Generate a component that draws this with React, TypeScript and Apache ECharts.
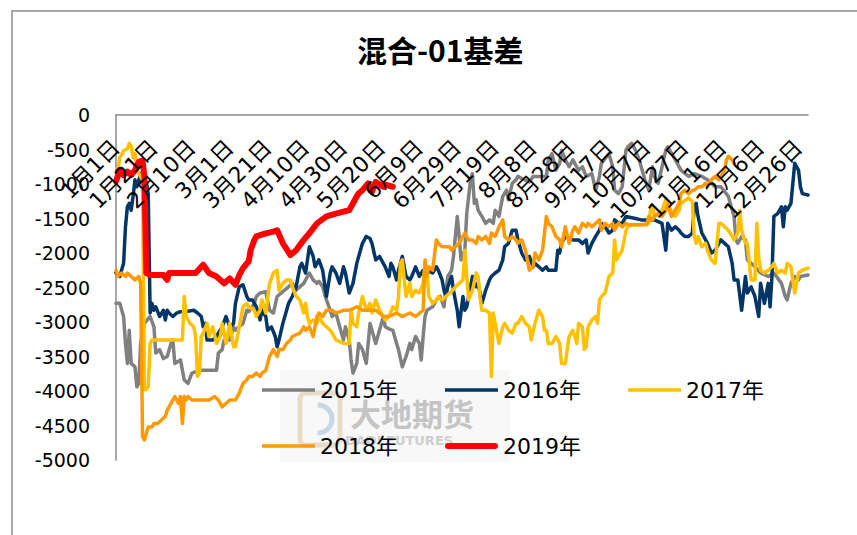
import React, { useEffect, useRef } from 'react';
import * as echarts from 'echarts';

const chartTitle = '混合-01基差';
const tickLabels = ['1月1日', '1月21日', '2月10日', '3月1日', '3月21日', '4月10日', '4月30日', '5月20日', '6月9日', '6月29日', '7月19日', '8月8日', '8月28日', '9月17日', '10月7日', '10月27日', '11月16日', '12月6日', '12月26日'];
const yearNames = ['2015年', '2016年', '2017年', '2018年', '2019年'];
const yearColors = ['#808080', '#033668', '#FFC000', '#FF9900', '#FF0000'];

// [day of year index, basis value]
const s2015: number[][] = [[0,-2730],[2,-2730],[4,-2920],[5,-3310],[6,-3600],[7,-3120],[8,-3600],[10,-3650],[11,-3940],[12,-3890],[13,-3310],[15,-3020],[18,-2920],[20,-3070],[21,-3450],[23,-3400],[25,-3530],[27,-3500],[29,-3310],[30,-3260],[31,-3600],[34,-3550],[36,-3840],[38,-3890],[40,-3740],[44,-3700],[48,-3700],[53,-3700],[54,-3450],[56,-3400],[57,-3260],[60,-3260],[62,-3070],[63,-3120],[67,-3020],[69,-2830],[70,-2850],[73,-2730],[74,-2630],[76,-2580],[79,-2560],[81,-2830],[83,-2870],[85,-2630],[88,-2560],[91,-2490],[93,-2440],[95,-2540],[99,-2440],[100,-2390],[102,-2290],[104,-2390],[106,-2440],[107,-2410],[109,-2490],[111,-2680],[113,-2830],[114,-2920],[116,-2870],[118,-3070],[120,-3260],[121,-3070],[123,-3260],[124,-3550],[125,-3740],[127,-3600],[128,-3310],[130,-3400],[132,-3600],[133,-3310],[134,-3020],[135,-3120],[137,-3310],[139,-3120],[141,-2920],[142,-3070],[144,-3100],[146,-3120],[148,-3310],[149,-3400],[151,-3650],[153,-3500],[155,-3310],[156,-3400],[158,-3210],[160,-3310],[161,-3550],[162,-3210],[163,-2920],[164,-2830],[167,-2780],[169,-2680],[171,-2630],[173,-2780],[175,-2340],[177,-2250],[178,-2050],[180,-1470],[181,-1760],[182,-2100],[184,-1960],[185,-1430],[187,-940],[188,-850],[189,-1280],[190,-1230],[191,-1380],[193,-1470],[195,-1570],[197,-1520],[199,-1570],[200,-1380],[202,-1470],[204,-1180],[206,-1090],[207,-1230],[209,-990],[211,-940],[212,-890],[214,-920],[218,-970],[220,-890],[223,-890],[227,-890],[228,-650],[230,-560],[232,-800],[234,-700],[235,-510],[237,-650],[239,-750],[241,-650],[242,-700],[244,-800],[246,-750],[248,-890],[251,-850],[253,-1090],[255,-890],[256,-700],[260,-560],[262,-750],[263,-1090],[265,-1140],[267,-1040],[269,-510],[270,-460],[272,-410],[274,-510],[276,-650],[277,-750],[279,-940],[281,-1090],[283,-750],[284,-890],[286,-990],[288,-750],[290,-510],[291,-460],[295,-650],[298,-800],[302,-890],[305,-850],[309,-890],[312,-940],[316,-1040],[319,-1040],[323,-1180],[326,-1470],[327,-1810],[328,-1860],[330,-1760],[332,-1810],[333,-2100],[335,-2150],[337,-2200],[340,-2290],[344,-2340],[347,-2290],[351,-2440],[353,-2630],[354,-2680],[356,-2440],[358,-2340],[360,-2390],[361,-2340],[365,-2320]];

const s2016: number[][] = [[0,-2290],[2,-2340],[4,-2150],[5,-1620],[6,-1330],[7,-1280],[8,-1380],[9,-1180],[10,-940],[11,-1040],[13,-850],[14,-1040],[15,-990],[16,-970],[17,-1140],[18,-2870],[19,-2730],[20,-2830],[21,-2780],[23,-2920],[25,-2830],[26,-2970],[27,-2830],[28,-2870],[30,-2920],[32,-2870],[34,-2850],[37,-2850],[41,-2830],[43,-2870],[45,-2920],[46,-3070],[47,-3020],[48,-3260],[51,-3260],[53,-3210],[56,-3070],[58,-2920],[60,-3070],[62,-3020],[63,-2730],[65,-2490],[67,-2460],[69,-2630],[70,-2680],[72,-2680],[74,-2780],[76,-2970],[77,-2830],[79,-2920],[80,-3120],[82,-3070],[84,-3210],[85,-3360],[86,-3260],[88,-3020],[90,-2830],[91,-2730],[93,-2630],[95,-2490],[97,-2200],[98,-2150],[100,-2290],[102,-1910],[104,-2050],[105,-2200],[107,-2100],[109,-2250],[111,-2630],[113,-2290],[114,-2200],[116,-2290],[118,-2440],[120,-2200],[121,-2290],[123,-2580],[125,-2440],[127,-2150],[128,-2050],[130,-1860],[132,-1760],[134,-1790],[135,-1860],[137,-2100],[139,-2050],[141,-2150],[142,-2200],[144,-2340],[145,-2150],[146,-2200],[148,-2390],[149,-2250],[151,-2050],[153,-2340],[155,-2390],[156,-2340],[158,-2200],[160,-2340],[162,-2250],[163,-2390],[165,-2250],[167,-2290],[169,-2200],[170,-2250],[172,-2390],[173,-2540],[174,-2630],[175,-2490],[177,-2340],[178,-2540],[180,-2830],[181,-3070],[183,-2630],[184,-2830],[185,-2780],[186,-2630],[188,-2340],[190,-2490],[191,-2440],[193,-2730],[195,-2540],[197,-2390],[198,-2340],[200,-2290],[202,-2250],[204,-2100],[205,-1910],[207,-1860],[209,-1670],[211,-1670],[212,-1810],[214,-2000],[216,-2100],[218,-2050],[220,-2200],[221,-2150],[223,-2200],[225,-2250],[227,-2200],[228,-2250],[232,-2250],[233,-1960],[234,-2000],[235,-1860],[237,-1760],[241,-1810],[244,-1810],[246,-1860],[248,-1810],[249,-2000],[251,-1860],[253,-1760],[255,-1670],[256,-1570],[258,-1620],[260,-1710],[262,-1670],[263,-1520],[265,-1570],[267,-1570],[269,-1470],[274,-1500],[277,-1520],[284,-1520],[288,-1570],[290,-1960],[291,-1570],[293,-1670],[295,-1620],[297,-1670],[298,-1710],[300,-1760],[302,-1760],[304,-1710],[305,-1330],[306,-1280],[307,-1470],[309,-1710],[311,-1810],[312,-1860],[314,-2000],[316,-1960],[319,-1810],[321,-1860],[323,-1910],[325,-2150],[326,-2390],[328,-2390],[330,-2830],[332,-2340],[333,-2580],[335,-2490],[337,-2630],[339,-2920],[340,-2440],[342,-2730],[344,-2440],[345,-2780],[346,-2340],[347,-1470],[349,-1430],[351,-1330],[352,-1620],[353,-1330],[354,-1380],[356,-1280],[358,-700],[360,-800],[361,-1040],[362,-1140],[365,-1160]];

const s2017: number[][] = [[0,-1000],[1,-800],[2,-620],[4,-520],[6,-490],[7,-410],[8,-450],[9,-620],[10,-560],[11,-780],[13,-900],[14,-940],[15,-3980],[16,-3980],[17,-3940],[18,-3310],[19,-3260],[35,-3260],[36,-2630],[37,-2920],[39,-3020],[41,-3070],[42,-3210],[43,-3790],[44,-3740],[45,-3210],[46,-3160],[48,-3020],[49,-3210],[51,-3070],[53,-3310],[55,-3210],[56,-3020],[58,-3310],[60,-3020],[62,-3360],[63,-3360],[65,-3070],[67,-2780],[69,-2730],[70,-2780],[73,-2830],[74,-2920],[76,-2830],[77,-2680],[79,-2870],[81,-2440],[83,-2290],[85,-2250],[86,-2540],[88,-2440],[90,-2390],[92,-2390],[93,-2490],[95,-2630],[97,-2680],[99,-2870],[100,-2730],[101,-2920],[102,-3020],[104,-2970],[106,-3020],[107,-2920],[109,-3020],[111,-3070],[113,-3120],[114,-3160],[116,-3260],[120,-3310],[123,-3310],[124,-2830],[125,-3020],[127,-3070],[128,-2870],[130,-2630],[132,-2830],[134,-2730],[135,-2870],[137,-2680],[139,-2830],[141,-2920],[142,-2970],[144,-2920],[146,-2780],[148,-2830],[149,-2630],[150,-2150],[151,-2100],[153,-2630],[155,-2440],[156,-2630],[158,-2540],[160,-2580],[162,-2440],[163,-2150],[164,-2250],[165,-2630],[166,-2680],[167,-2730],[169,-2680],[170,-2630],[172,-2680],[174,-2630],[176,-2580],[177,-2560],[179,-2490],[181,-2440],[183,-2390],[184,-1960],[185,-2340],[186,-2680],[188,-2540],[190,-2290],[191,-2340],[192,-2630],[193,-2830],[195,-2830],[197,-2870],[198,-3790],[199,-2870],[200,-3020],[202,-3310],[204,-3070],[205,-3020],[207,-3120],[209,-3160],[211,-3020],[212,-3020],[214,-2920],[216,-3020],[218,-3070],[219,-3260],[221,-3020],[223,-2830],[225,-2920],[226,-3120],[227,-3120],[228,-3310],[230,-3310],[232,-3210],[234,-3310],[235,-3600],[237,-3600],[238,-3400],[239,-3210],[241,-3120],[242,-3210],[243,-3310],[244,-3020],[246,-3070],[247,-3400],[248,-3360],[249,-3070],[250,-3020],[251,-2970],[253,-2920],[254,-3020],[255,-2680],[256,-2630],[258,-2580],[260,-2340],[262,-2290],[263,-1810],[264,-2100],[265,-2050],[267,-1960],[269,-1670],[270,-1620],[272,-1590],[277,-1590],[280,-1570],[281,-1570],[282,-1380],[283,-1330],[284,-1470],[286,-1430],[288,-1380],[290,-1230],[291,-1280],[293,-1400],[295,-1470],[297,-1380],[298,-1280],[302,-1200],[304,-1260],[305,-1760],[306,-1860],[307,-1760],[309,-1910],[311,-1860],[312,-1960],[314,-2100],[316,-2150],[318,-1570],[319,-1570],[321,-1620],[323,-1670],[325,-1760],[326,-1810],[328,-1710],[329,-1380],[330,-1670],[332,-1860],[333,-1860],[335,-2390],[337,-2390],[338,-1570],[339,-2050],[340,-2250],[342,-2290],[344,-2250],[346,-2200],[347,-2150],[349,-2290],[351,-2250],[353,-2290],[354,-2150],[356,-2200],[358,-2580],[360,-2290],[362,-2250],[365,-2220]];

const s2018: number[][] = [[0,-2250],[1,-2340],[3,-2290],[5,-2340],[6,-2290],[8,-2340],[10,-2390],[12,-2340],[13,-2440],[14,-4660],[15,-4710],[17,-4520],[19,-4520],[20,-4470],[22,-4470],[24,-4420],[26,-4370],[27,-4280],[29,-4180],[31,-4080],[33,-4180],[34,-4080],[35,-4470],[36,-4080],[37,-4130],[38,-4080],[40,-4130],[43,-4130],[46,-4130],[49,-4130],[52,-4080],[54,-4130],[56,-4230],[58,-4180],[60,-4130],[63,-4130],[65,-4030],[67,-3890],[69,-3840],[70,-3790],[72,-3790],[74,-3740],[76,-3790],[77,-3740],[79,-3700],[81,-3500],[83,-3400],[85,-3500],[86,-3400],[88,-3400],[90,-3310],[92,-3260],[93,-3210],[97,-3160],[99,-3070],[100,-3120],[102,-3070],[104,-3210],[106,-2920],[107,-2870],[109,-2920],[111,-2830],[114,-2830],[116,-2870],[120,-2830],[123,-2830],[127,-2780],[130,-2830],[134,-2830],[137,-2830],[141,-2920],[144,-2920],[148,-2870],[151,-2920],[155,-2870],[158,-2920],[162,-2830],[163,-2100],[164,-2340],[165,-2200],[167,-2250],[169,-1810],[170,-1860],[172,-1910],[176,-1910],[177,-1960],[179,-1910],[181,-1860],[183,-1760],[184,-1710],[186,-1810],[188,-1810],[190,-1860],[191,-1760],[193,-1810],[195,-1760],[197,-1860],[198,-1710],[200,-1760],[202,-1620],[204,-1520],[205,-1760],[207,-1810],[209,-1760],[211,-1810],[212,-1860],[214,-1810],[216,-1960],[218,-2250],[220,-2200],[221,-2000],[223,-2100],[225,-1960],[227,-1470],[228,-1570],[230,-1620],[232,-1760],[234,-1810],[235,-1910],[237,-1620],[239,-1860],[241,-1670],[242,-1620],[244,-1710],[246,-1570],[248,-1620],[249,-1570],[251,-1620],[253,-1570],[255,-1520],[256,-1670],[258,-1570],[260,-1620],[262,-1570],[263,-1670],[265,-1570],[267,-1620],[269,-1570],[270,-1590],[280,-1590],[281,-1470],[283,-1520],[284,-1470],[286,-1430],[288,-1470],[290,-1380],[291,-1300],[293,-1470],[295,-1380],[297,-1280],[298,-1140],[300,-1090],[302,-1140],[304,-1090],[305,-1090],[307,-1040],[309,-1040],[311,-990],[312,-1040],[314,-940],[316,-890],[318,-940],[319,-890],[321,-800],[322,-650],[323,-600],[325,-650],[326,-700]];

const s2019: number[][] = [[0,-960],[2,-800],[4,-870],[6,-820],[8,-870],[10,-800],[12,-680],[14,-660],[15,-900],[16,-2290],[18,-2320],[22,-2320],[25,-2320],[27,-2390],[28,-2290],[35,-2290],[42,-2290],[46,-2170],[49,-2290],[53,-2340],[57,-2440],[60,-2370],[63,-2460],[65,-2320],[67,-2220],[70,-2120],[71,-1960],[73,-1810],[74,-1760],[79,-1715],[83,-1690],[85,-1670],[88,-1860],[92,-2030],[95,-1960],[99,-1810],[102,-1715],[106,-1570],[111,-1470],[116,-1430],[123,-1380],[127,-1180],[128,-1135],[130,-1090],[133,-990],[135,-1110],[137,-970],[141,-1040],[142,-1010],[146,-1040]];

const seriesData = [s2015, s2016, s2017, s2018, s2019];
const lineWidths = [3.5, 3.5, 3.5, 3.5, 6];

const FONT = '"DejaVu Sans", "Noto Sans CJK SC", sans-serif';
const iconThin = 'path://M0,0M53,10M0,3.2h53v3.6h-53z';
const iconThick = 'path://M0,0M53,10M3,2h47a3,3 0 0 1 0,6h-47a3,3 0 0 1 0,-6z';

export default function App() {
  const ref = useRef<HTMLDivElement>(null);
  useEffect(() => {
    document.body.style.margin = '0';
    const chart = echarts.init(ref.current as HTMLDivElement, null, { renderer: 'svg' });
    const legendBase = {
      left: 257,
      orient: 'horizontal',
      itemWidth: 53,
      itemHeight: 10,
      itemGap: 47,
      textStyle: { fontSize: 22, color: '#000', fontFamily: FONT },
      itemStyle: { borderWidth: 0 },
    };
    const option = {
      animation: false,
      backgroundColor: '#fff',
      title: {
        text: chartTitle,
        left: 352,
        top: 29,
        textStyle: { fontSize: 30, fontWeight: 'bold', color: '#000', fontFamily: '"Noto Sans CJK SC", sans-serif' },
      },
      graphic: [
        { type: 'polyline', z: 0, silent: true, shape: { points: [[12, 540], [12, 11], [860, 11]] }, style: { stroke: '#8a8a8a', lineWidth: 1.5, fill: 'none' } },
        { type: 'rect', z: 0, silent: true, shape: { x: 280, y: 370, width: 230, height: 92 }, style: { fill: '#f8f8f8' } },
        { type: 'rect', z: 0, silent: true, shape: { x: 300, y: 393, width: 40, height: 52, r: 6 }, style: { fill: 'none', stroke: '#e6dcc8', lineWidth: 5 } },
        { type: 'arc', z: 0, silent: true, shape: { cx: 318, cy: 419, r: 14, startAngle: -1.6, endAngle: 1.6 }, style: { stroke: '#c9d6e6', lineWidth: 5, fill: 'none' } },
        { type: 'text', z: 0, silent: true, x: 350, y: 397, style: { text: '大地期货', fill: '#c4c4c4', fontSize: 31, fontWeight: 'bold', fontFamily: '"Noto Sans CJK SC", sans-serif' } },
        { type: 'text', z: 0, silent: true, x: 345, y: 434, style: { text: 'DADI FUTURES', fill: '#cfcfcf', fontSize: 13, fontWeight: 'bold', fontFamily: '"DejaVu Sans", sans-serif' } },
      ],
      legend: [
        {
          ...legendBase,
          top: 374,
          data: yearNames.slice(0, 3).map((n) => ({ name: n, icon: iconThin })),
        },
        {
          ...legendBase,
          top: 430,
          data: yearNames.slice(3).map((n, i) => ({ name: n, icon: i === 1 ? iconThick : iconThin })),
        },
      ],
      grid: { left: 116, right: 49, top: 115, bottom: 75, containLabel: false },
      xAxis: {
        type: 'value',
        min: 0,
        max: 365,
        interval: 20,
        position: 'top',
        z: 10,
        axisLine: { show: true, onZero: false, lineStyle: { color: '#8a8a8a', width: 1.5 } },
        axisTick: { show: false },
        splitLine: { show: false },
        axisLabel: {
          inside: true,
          rotate: -45,
          margin: 29,
          fontSize: 22,
          color: '#000',
          fontFamily: FONT,
          formatter: (v: number) => (v % 20 === 0 ? tickLabels[v / 20] ?? '' : ''),
        },
      },
      yAxis: {
        type: 'value',
        min: -5000,
        max: 0,
        interval: 500,
        axisLine: { show: true, lineStyle: { color: '#8a8a8a', width: 1.5 } },
        axisTick: { show: false },
        splitLine: { show: false },
        axisLabel: { fontSize: 19, color: '#000', margin: 26, fontFamily: FONT, formatter: (v: number) => String(v) },
      },
      series: yearNames.map((name, i) => ({
        name,
        type: 'line',
        data: seriesData[i],
        symbol: 'none',
        color: yearColors[i],
        lineStyle: { width: lineWidths[i], color: yearColors[i], cap: 'round', join: 'round' },
        z: 2 + i,
      })),
    };
    chart.setOption(option as any);
    return () => chart.dispose();
  }, []);
  return <div ref={ref} style={{ width: 857, height: 535 }} />;
}
